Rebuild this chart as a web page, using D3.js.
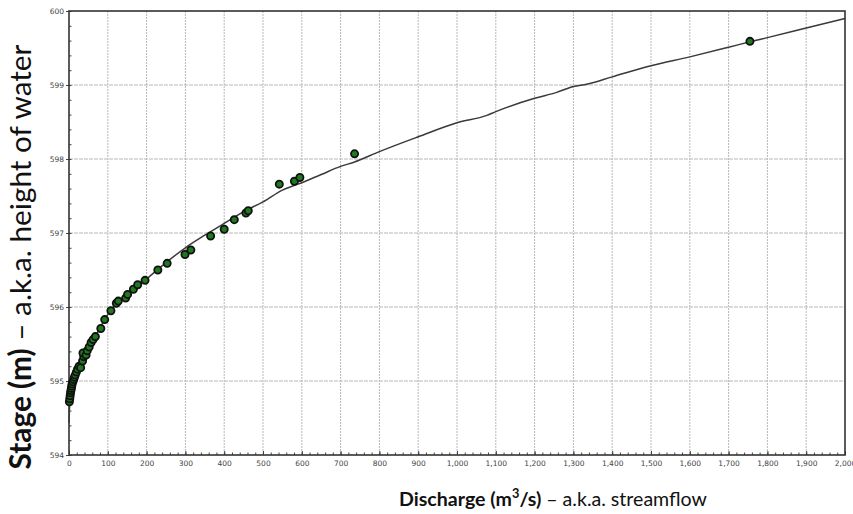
<!DOCTYPE html>
<html>
<head>
<meta charset="utf-8">
<script src="https://d3js.org/d3.v7.min.js"></script>
<style>
	body { margin:0; background:#fff; }
	svg { display:block; }
</style>
</head>
<body>
<script>
// observed gaugings (discharge m3/s, stage m)
var obsQ = [1,2,3,4,5,6,7,8,10,12,14,16,19,22,26,30,35,38,36,44,47,52,57,62,68,
			82,92,108,122,127,146,151,166,177,196,229,253,299,314,365,400,426,456,462,
			542,581,595,736,1755];
var obsStage = [594.72,594.76,594.80,594.84,594.87,594.90,594.93,594.96,594.99,595.02,595.05,595.08,595.12,595.16,595.20,595.18,595.27,595.33,595.38,595.35,595.41,595.46,595.52,595.56,595.60,
			595.71,595.83,595.95,596.05,596.08,596.12,596.17,596.24,596.30,596.36,596.50,596.59,596.71,596.77,596.96,597.05,597.18,597.27,597.30,
			597.66,597.70,597.75,598.07,599.59];

// rating curve
var curveQ = [0,2,5,10,20,30,50,75,100,150,200,250,300,350,400,450,500,550,590,600,650,700,736,800,900,1000,1077,1100,1200,1257,1300,1334,1400,1500,1600,1700,1760,1800,1900,2000];
var curveStage = [594.43,594.70,594.80,594.92,595.08,595.20,595.42,595.67,595.90,596.17,596.38,596.60,596.80,596.97,597.13,597.29,597.42,597.58,597.66,597.68,597.79,597.90,597.96,598.10,598.30,598.49,598.59,598.64,598.82,598.90,598.98,599.01,599.11,599.26,599.38,599.51,599.59,599.64,599.77,599.90];

var xMajor = [0,100,200,300,400,500,600,700,800,900,1000,1100,1200,1300,1400,1500,1600,1700,1800,1900,2000];
var yMajor = [594,595,596,597,598,599,600];

var width = 853, height = 514;
var pLeft = 69, pRight = 845, pTop = 11, pBottom = 455;

var svg = d3.select("body")
			.append("svg")
			.attr("width",width)
			.attr("height",height);

var x = d3.scaleLinear().domain([0,2000]).range([pLeft,pRight]);
var y = d3.scaleLinear().domain([594,600]).range([pBottom,pTop]);

// grid
svg.append("g")
	.selectAll("line")
	.data(xMajor.slice(1,-1))
	.enter().append("line")
	.attr("x1",function(d){return x(d);})
	.attr("x2",function(d){return x(d);})
	.attr("y1",pTop)
	.attr("y2",pBottom)
	.attr("stroke","#b8b8b8")
	.attr("stroke-width",1)
	.attr("stroke-dasharray","2,1");

svg.append("g")
	.selectAll("line")
	.data(yMajor.slice(1,-1))
	.enter().append("line")
	.attr("x1",pLeft)
	.attr("x2",pRight)
	.attr("y1",function(d){return y(d);})
	.attr("y2",function(d){return y(d);})
	.attr("stroke","#b8b8b8")
	.attr("stroke-width",1)
	.attr("stroke-dasharray","4,1");

// axes
var xAxis = d3.axisBottom(x)
			.tickValues(xMajor)
			.tickSize(-4)
			.tickPadding(6)
			.tickFormat(d3.format(","));
var xMinor = d3.axisBottom(x)
			.tickValues(d3.range(0,2001,20))
			.tickSize(-2.5)
			.tickFormat("");
var yAxis = d3.axisLeft(y)
			.tickValues(yMajor)
			.tickSize(3)
			.tickPadding(2)
			.tickFormat(d3.format("d"));
var yMinor = d3.axisLeft(y)
			.tickValues(d3.range(594,600.01,0.2))
			.tickSize(-2.5)
			.tickFormat("");

svg.append("g").attr("transform","translate(0,"+pBottom+")").call(xAxis);
svg.append("g").attr("transform","translate(0,"+pBottom+")").call(xMinor);
svg.append("g").attr("transform","translate("+pLeft+",0)").call(yAxis);
svg.append("g").attr("transform","translate("+pLeft+",0)").call(yMinor);

svg.selectAll(".domain").remove();
svg.selectAll(".tick line").attr("stroke","#444");
svg.selectAll(".tick text")
	.attr("fill","#444")
	.style("font-family","'DejaVu Sans', sans-serif")
	.style("font-size","7.5px");

// frame
svg.append("rect")
	.attr("x",pLeft)
	.attr("y",pTop)
	.attr("width",pRight-pLeft)
	.attr("height",pBottom-pTop)
	.attr("fill","none")
	.attr("stroke","#333")
	.attr("stroke-width",1.6);

// rating curve
var curve = curveQ.map(function(d,i){ return [d, curveStage[i]]; });
var line = d3.line()
			.x(function(d){return x(d[0]);})
			.y(function(d){return y(d[1]);})
			.curve(d3.curveMonotoneX);

svg.append("path")
	.datum(curve)
	.attr("d",line)
	.attr("fill","none")
	.attr("stroke","#3a3a3a")
	.attr("stroke-width",1.5);

// gaugings
var pts = obsQ.map(function(d,i){ return [d, obsStage[i]]; });
svg.append("g")
	.selectAll("circle")
	.data(pts)
	.enter().append("circle")
	.attr("cx",function(d){return x(d[0]);})
	.attr("cy",function(d){return y(d[1]);})
	.attr("r",3.6)
	.attr("fill","#1f7a1f")
	.attr("stroke","#111")
	.attr("stroke-width",1.8);

// titles, sized to span the same width as the picture
var fitText = function(t, target){
	var w = t.node().getComputedTextLength();
	var fs = parseFloat(t.style("font-size"));
	t.style("font-size", (fs*target/w)+"px");
};

var xt = svg.append("text")
			.attr("x",553)
			.attr("y",506)
			.attr("text-anchor","middle")
			.attr("fill","#111")
			.style("font-family","Lato, 'Open Sans', sans-serif")
			.style("font-size","20px");
xt.append("tspan").attr("font-weight","bold").text("Discharge (m");
xt.append("tspan").attr("font-weight","bold").attr("dy",-8).style("font-size","0.65em").text("3");
xt.append("tspan").attr("font-weight","bold").attr("dy",8).text("/s)");
xt.append("tspan").text(" \u2013 a.k.a. streamflow");
fitText(xt, 308);

var yt = svg.append("text")
			.attr("transform","translate(31,257) rotate(-90)")
			.attr("text-anchor","middle")
			.attr("fill","#111")
			.style("font-family","Lato, 'Open Sans', sans-serif")
			.style("font-size","24px");
yt.append("tspan").attr("font-weight","bold").text("Stage (m)");
yt.append("tspan").text(" \u2013 a.k.a. height of water");
fitText(yt, 425);
</script>
</body>
</html>
